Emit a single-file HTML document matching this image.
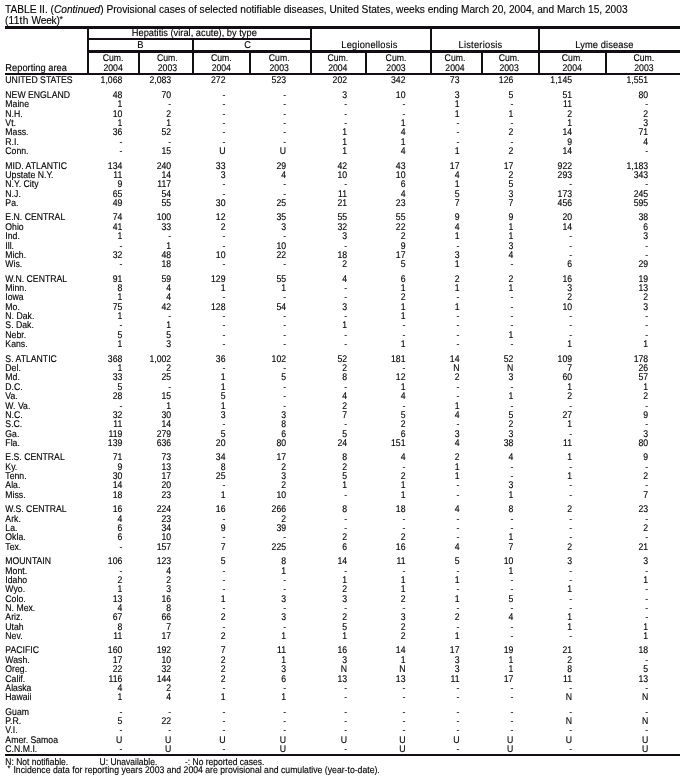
<!DOCTYPE html>
<html lang="en"><head><meta charset="utf-8"><title>TABLE II. (Continued) Provisional cases of selected notifiable diseases</title>
<style>
html,body{margin:0;padding:0;background:#fff;overflow:hidden;}
body{width:687px;height:782px;position:relative;overflow:hidden;font-family:"Liberation Sans",sans-serif;color:#000;}
table,caption,thead,tbody,tfoot,tr,th,td{display:block;position:absolute;left:0;top:0;margin:0;padding:0;border:0;font-weight:normal;font-style:normal;text-align:left;}
table{width:687px;height:782px;font-size:8.7px;line-height:12px;white-space:nowrap;-webkit-text-stroke:0.12px #000;}
caption{width:687px;height:26px;font-size:10.16px;}
caption span,thead span,tfoot span{display:block;position:absolute;height:12px;}
caption span{left:5px;}
caption span b{font-weight:normal;}
sup{font-size:84%;vertical-align:.22em;line-height:0;-webkit-text-stroke:.1px #000;}
tr{width:687px;height:12px;}
thead tr{height:0;}
tbody th,tbody td{height:12px;}
tbody th{left:5px;transform:matrix(1,0,0.0005,1.12,0.35,0);transform-origin:0 9px;}
tbody td{width:40px;text-align:right;transform-origin:100% 9px;}
.g span{width:140px;text-align:center;font-size:9.3px;transform-origin:50% 9px;}
.g .r span{width:auto;text-align:left;left:5px;top:62px;font-size:9.3px;transform:matrix(1,0,0.0005,1.07,0.35,0);transform-origin:0 9px;}
.c span{width:60px;text-align:center;top:52px;transform-origin:50% 9px;}
.c span+span{top:62px;}
tfoot span{font-size:8.69px;transform-origin:0 9px;}
.l{position:absolute;background:#120e14;}
tbody td:nth-child(2){left:82px;transform:matrix(1,0,0.0005,1.12,0.3,0);}
tbody td:nth-child(3){left:131px;transform:matrix(1,0,0.0005,1.12,0.2,0);}
tbody td:nth-child(4){left:185px;transform:matrix(1,0,0.0005,1.12,0.5,0);}
tbody td:nth-child(5){left:246px;transform:matrix(1,0,0.0005,1.12,0.1,0);}
tbody td:nth-child(6){left:307px;transform:matrix(1,0,0.0005,1.12,0.1,0);}
tbody td:nth-child(7){left:365px;transform:matrix(1,0,0.0005,1.12,0.5,0);}
tbody td:nth-child(8){left:419px;transform:matrix(1,0,0.0005,1.12,0.5,0);}
tbody td:nth-child(9){left:473px;transform:matrix(1,0,0.0005,1.12,0.3,0);}
tbody td:nth-child(10){left:532px;transform:matrix(1,0,0.0005,1.12,0.1,0);}
tbody td:nth-child(11){left:608px;transform:matrix(1,0,0.0005,1.12,0.2,0);}
.c th:nth-child(1) span{left:83px;transform:matrix(1,0,0.0005,1.12,0.1,0);}
.c th:nth-child(2) span{left:137px;transform:matrix(1,0,0.0005,1.12,0.4,0);}
.c th:nth-child(3) span{left:191px;transform:matrix(1,0,0.0005,1.12,0.3,0);}
.c th:nth-child(4) span{left:249px;transform:matrix(1,0,0.0005,1.12,0.2,0);}
.c th:nth-child(5) span{left:307px;transform:matrix(1,0,0.0005,1.12,0.8,0);}
.c th:nth-child(6) span{left:366px;transform:matrix(1,0,0.0005,1.12,0,0);}
.c th:nth-child(7) span{left:425px;transform:matrix(1,0,0.0005,1.12,0,0);}
.c th:nth-child(8) span{left:479px;transform:matrix(1,0,0.0005,1.12,0.1,0);}
.c th:nth-child(9) span{left:542px;transform:matrix(1,0,0.0005,1.12,0.2,0);}
.c th:nth-child(10) span{left:613px;transform:matrix(1,0,0.0005,1.12,0.9,0);}
</style></head><body>
<div class="l" style="left:5px;top:26px;width:675px;height:3px"></div>
<div class="l" style="left:87px;top:38px;width:225px;height:2px"></div>
<div class="l" style="left:87px;top:50px;width:593px;height:3px"></div>
<div class="l" style="left:5px;top:73px;width:675px;height:2px"></div>
<div class="l" style="left:5px;top:754px;width:675px;height:2px"></div>
<div class="l" style="left:87px;top:27px;width:2px;height:47px"></div>
<div class="l" style="left:138px;top:51px;width:2px;height:23px"></div>
<div class="l" style="left:192px;top:39px;width:2px;height:35px"></div>
<div class="l" style="left:249px;top:51px;width:2px;height:23px"></div>
<div class="l" style="left:310px;top:27px;width:2px;height:47px"></div>
<div class="l" style="left:365px;top:51px;width:2px;height:23px"></div>
<div class="l" style="left:430px;top:27px;width:2px;height:47px"></div>
<div class="l" style="left:481px;top:51px;width:2px;height:23px"></div>
<div class="l" style="left:538px;top:27px;width:2px;height:47px"></div>
<div class="l" style="left:605px;top:51px;width:2px;height:23px"></div>
<table>
<caption><span style="top:4px">TABLE II. (<i>Continued</i>) Provisional cases of selected notifiable diseases, United States, weeks ending March 20, 2004, and March 15, 2003</span><span style="top:15px"><b style="letter-spacing:.22px">(11th </b><b style="letter-spacing:-.22px">Week)</b><sup>*</sup></span></caption>
<thead>
<tr class="g"><th rowspan="3" class="r"><span>Reporting area</span></th><th colspan="4"><span style="left:124px;top:27px;transform:matrix(1,0,0.0005,1.07,0.3,0)">Hepatitis (viral, acute), by type</span></th><th colspan="2" rowspan="2"><span style="left:299px;top:39px;transform:matrix(1,0,0.0005,1.07,0.5,0);letter-spacing:0.2px">Legionellosis</span></th><th colspan="2" rowspan="2"><span style="left:410px;top:39px;transform:matrix(1,0,0.0005,1.07,0.52,0);letter-spacing:0.24px">Listeriosis</span></th><th colspan="2" rowspan="2"><span style="left:534px;top:39px;transform:matrix(1,0,0.0005,1.07,0.35,0);letter-spacing:0.1px">Lyme disease</span></th></tr>
<tr class="g"><th colspan="2"><span style="left:70px;top:39px;transform:matrix(1,0,0.0005,1.07,0.3,0)">B</span></th><th colspan="2"><span style="left:177px;top:39px;transform:matrix(1,0,0.0005,1.07,0.6,0)">C</span></th></tr>
<tr class="c"><th><span>Cum.</span><span>2004</span></th><th><span>Cum.</span><span>2003</span></th><th><span>Cum.</span><span>2004</span></th><th><span>Cum.</span><span>2003</span></th><th><span>Cum.</span><span>2004</span></th><th><span>Cum.</span><span>2003</span></th><th><span>Cum.</span><span>2004</span></th><th><span>Cum.</span><span>2003</span></th><th><span>Cum.</span><span>2004</span></th><th><span>Cum.</span><span>2003</span></th></tr>
</thead>
<tbody>
<tr style="top:74px"><th>UNITED STATES</th><td>1,068</td><td>2,083</td><td>272</td><td>523</td><td>202</td><td>342</td><td>73</td><td>126</td><td>1,145</td><td>1,551</td></tr>
<tr style="top:89px"><th>NEW ENGLAND</th><td>48</td><td>70</td><td>-</td><td>-</td><td>3</td><td>10</td><td>3</td><td>5</td><td>51</td><td>80</td></tr>
<tr style="top:98px"><th>Maine</th><td>1</td><td>-</td><td>-</td><td>-</td><td>-</td><td>-</td><td>1</td><td>-</td><td>11</td><td>-</td></tr>
<tr style="top:108px"><th>N.H.</th><td>10</td><td>2</td><td>-</td><td>-</td><td>-</td><td>-</td><td>1</td><td>1</td><td>2</td><td>2</td></tr>
<tr style="top:117px"><th>Vt.</th><td>1</td><td>1</td><td>-</td><td>-</td><td>-</td><td>1</td><td>-</td><td>-</td><td>1</td><td>3</td></tr>
<tr style="top:126px"><th>Mass.</th><td>36</td><td>52</td><td>-</td><td>-</td><td>1</td><td>4</td><td>-</td><td>2</td><td>14</td><td>71</td></tr>
<tr style="top:136px"><th>R.I.</th><td>-</td><td>-</td><td>-</td><td>-</td><td>1</td><td>1</td><td>-</td><td>-</td><td>9</td><td>4</td></tr>
<tr style="top:145px"><th>Conn.</th><td>-</td><td>15</td><td>U</td><td>U</td><td>1</td><td>4</td><td>1</td><td>2</td><td>14</td><td>-</td></tr>
<tr style="top:160px"><th>MID. ATLANTIC</th><td>134</td><td>240</td><td>33</td><td>29</td><td>42</td><td>43</td><td>17</td><td>17</td><td>922</td><td>1,183</td></tr>
<tr style="top:169px"><th>Upstate N.Y.</th><td>11</td><td>14</td><td>3</td><td>4</td><td>10</td><td>10</td><td>4</td><td>2</td><td>293</td><td>343</td></tr>
<tr style="top:178px"><th>N.Y. City</th><td>9</td><td>117</td><td>-</td><td>-</td><td>-</td><td>6</td><td>1</td><td>5</td><td>-</td><td>-</td></tr>
<tr style="top:188px"><th>N.J.</th><td>65</td><td>54</td><td>-</td><td>-</td><td>11</td><td>4</td><td>5</td><td>3</td><td>173</td><td>245</td></tr>
<tr style="top:197px"><th>Pa.</th><td>49</td><td>55</td><td>30</td><td>25</td><td>21</td><td>23</td><td>7</td><td>7</td><td>456</td><td>595</td></tr>
<tr style="top:211px"><th>E.N. CENTRAL</th><td>74</td><td>100</td><td>12</td><td>35</td><td>55</td><td>55</td><td>9</td><td>9</td><td>20</td><td>38</td></tr>
<tr style="top:221px"><th>Ohio</th><td>41</td><td>33</td><td>2</td><td>3</td><td>32</td><td>22</td><td>4</td><td>1</td><td>14</td><td>6</td></tr>
<tr style="top:230px"><th>Ind.</th><td>1</td><td>-</td><td>-</td><td>-</td><td>3</td><td>2</td><td>1</td><td>1</td><td>-</td><td>3</td></tr>
<tr style="top:240px"><th>Ill.</th><td>-</td><td>1</td><td>-</td><td>10</td><td>-</td><td>9</td><td>-</td><td>3</td><td>-</td><td>-</td></tr>
<tr style="top:249px"><th>Mich.</th><td>32</td><td>48</td><td>10</td><td>22</td><td>18</td><td>17</td><td>3</td><td>4</td><td>-</td><td>-</td></tr>
<tr style="top:258px"><th>Wis.</th><td>-</td><td>18</td><td>-</td><td>-</td><td>2</td><td>5</td><td>1</td><td>-</td><td>6</td><td>29</td></tr>
<tr style="top:273px"><th>W.N. CENTRAL</th><td>91</td><td>59</td><td>129</td><td>55</td><td>4</td><td>6</td><td>2</td><td>2</td><td>16</td><td>19</td></tr>
<tr style="top:282px"><th>Minn.</th><td>8</td><td>4</td><td>1</td><td>1</td><td>-</td><td>1</td><td>1</td><td>1</td><td>3</td><td>13</td></tr>
<tr style="top:291px"><th>Iowa</th><td>1</td><td>4</td><td>-</td><td>-</td><td>-</td><td>2</td><td>-</td><td>-</td><td>2</td><td>2</td></tr>
<tr style="top:301px"><th>Mo.</th><td>75</td><td>42</td><td>128</td><td>54</td><td>3</td><td>1</td><td>1</td><td>-</td><td>10</td><td>3</td></tr>
<tr style="top:310px"><th>N. Dak.</th><td>1</td><td>-</td><td>-</td><td>-</td><td>-</td><td>1</td><td>-</td><td>-</td><td>-</td><td>-</td></tr>
<tr style="top:319px"><th>S. Dak.</th><td>-</td><td>1</td><td>-</td><td>-</td><td>1</td><td>-</td><td>-</td><td>-</td><td>-</td><td>-</td></tr>
<tr style="top:329px"><th>Nebr.</th><td>5</td><td>5</td><td>-</td><td>-</td><td>-</td><td>-</td><td>-</td><td>1</td><td>-</td><td>-</td></tr>
<tr style="top:338px"><th>Kans.</th><td>1</td><td>3</td><td>-</td><td>-</td><td>-</td><td>1</td><td>-</td><td>-</td><td>1</td><td>1</td></tr>
<tr style="top:353px"><th>S. ATLANTIC</th><td>368</td><td>1,002</td><td>36</td><td>102</td><td>52</td><td>181</td><td>14</td><td>52</td><td>109</td><td>178</td></tr>
<tr style="top:362px"><th>Del.</th><td>1</td><td>2</td><td>-</td><td>-</td><td>2</td><td>-</td><td>N</td><td>N</td><td>7</td><td>26</td></tr>
<tr style="top:371px"><th>Md.</th><td>33</td><td>25</td><td>1</td><td>5</td><td>8</td><td>12</td><td>2</td><td>3</td><td>60</td><td>57</td></tr>
<tr style="top:381px"><th>D.C.</th><td>5</td><td>-</td><td>1</td><td>-</td><td>-</td><td>1</td><td>-</td><td>-</td><td>1</td><td>1</td></tr>
<tr style="top:390px"><th>Va.</th><td>28</td><td>15</td><td>5</td><td>-</td><td>4</td><td>4</td><td>-</td><td>1</td><td>2</td><td>2</td></tr>
<tr style="top:400px"><th>W. Va.</th><td>-</td><td>1</td><td>1</td><td>-</td><td>2</td><td>-</td><td>1</td><td>-</td><td>-</td><td>-</td></tr>
<tr style="top:409px"><th>N.C.</th><td>32</td><td>30</td><td>3</td><td>3</td><td>7</td><td>5</td><td>4</td><td>5</td><td>27</td><td>9</td></tr>
<tr style="top:418px"><th>S.C.</th><td>11</td><td>14</td><td>-</td><td>8</td><td>-</td><td>2</td><td>-</td><td>2</td><td>1</td><td>-</td></tr>
<tr style="top:428px"><th>Ga.</th><td>119</td><td>279</td><td>5</td><td>6</td><td>5</td><td>6</td><td>3</td><td>3</td><td>-</td><td>3</td></tr>
<tr style="top:437px"><th>Fla.</th><td>139</td><td>636</td><td>20</td><td>80</td><td>24</td><td>151</td><td>4</td><td>38</td><td>11</td><td>80</td></tr>
<tr style="top:451px"><th>E.S. CENTRAL</th><td>71</td><td>73</td><td>34</td><td>17</td><td>8</td><td>4</td><td>2</td><td>4</td><td>1</td><td>9</td></tr>
<tr style="top:461px"><th>Ky.</th><td>9</td><td>13</td><td>8</td><td>2</td><td>2</td><td>-</td><td>1</td><td>-</td><td>-</td><td>-</td></tr>
<tr style="top:470px"><th>Tenn.</th><td>30</td><td>17</td><td>25</td><td>3</td><td>5</td><td>2</td><td>1</td><td>-</td><td>1</td><td>2</td></tr>
<tr style="top:479px"><th>Ala.</th><td>14</td><td>20</td><td>-</td><td>2</td><td>1</td><td>1</td><td>-</td><td>3</td><td>-</td><td>-</td></tr>
<tr style="top:489px"><th>Miss.</th><td>18</td><td>23</td><td>1</td><td>10</td><td>-</td><td>1</td><td>-</td><td>1</td><td>-</td><td>7</td></tr>
<tr style="top:503px"><th>W.S. CENTRAL</th><td>16</td><td>224</td><td>16</td><td>266</td><td>8</td><td>18</td><td>4</td><td>8</td><td>2</td><td>23</td></tr>
<tr style="top:513px"><th>Ark.</th><td>4</td><td>23</td><td>-</td><td>2</td><td>-</td><td>-</td><td>-</td><td>-</td><td>-</td><td>-</td></tr>
<tr style="top:522px"><th>La.</th><td>6</td><td>34</td><td>9</td><td>39</td><td>-</td><td>-</td><td>-</td><td>-</td><td>-</td><td>2</td></tr>
<tr style="top:531px"><th>Okla.</th><td>6</td><td>10</td><td>-</td><td>-</td><td>2</td><td>2</td><td>-</td><td>1</td><td>-</td><td>-</td></tr>
<tr style="top:541px"><th>Tex.</th><td>-</td><td>157</td><td>7</td><td>225</td><td>6</td><td>16</td><td>4</td><td>7</td><td>2</td><td>21</td></tr>
<tr style="top:555px"><th>MOUNTAIN</th><td>106</td><td>123</td><td>5</td><td>8</td><td>14</td><td>11</td><td>5</td><td>10</td><td>3</td><td>3</td></tr>
<tr style="top:565px"><th>Mont.</th><td>-</td><td>4</td><td>-</td><td>1</td><td>-</td><td>-</td><td>-</td><td>1</td><td>-</td><td>-</td></tr>
<tr style="top:574px"><th>Idaho</th><td>2</td><td>2</td><td>-</td><td>-</td><td>1</td><td>1</td><td>1</td><td>-</td><td>-</td><td>1</td></tr>
<tr style="top:583px"><th>Wyo.</th><td>1</td><td>3</td><td>-</td><td>-</td><td>2</td><td>1</td><td>-</td><td>-</td><td>1</td><td>-</td></tr>
<tr style="top:593px"><th>Colo.</th><td>13</td><td>16</td><td>1</td><td>3</td><td>3</td><td>2</td><td>1</td><td>5</td><td>-</td><td>-</td></tr>
<tr style="top:602px"><th>N. Mex.</th><td>4</td><td>8</td><td>-</td><td>-</td><td>-</td><td>-</td><td>-</td><td>-</td><td>-</td><td>-</td></tr>
<tr style="top:611px"><th>Ariz.</th><td>67</td><td>66</td><td>2</td><td>3</td><td>2</td><td>3</td><td>2</td><td>4</td><td>1</td><td>-</td></tr>
<tr style="top:621px"><th>Utah</th><td>8</td><td>7</td><td>-</td><td>-</td><td>5</td><td>2</td><td>-</td><td>-</td><td>1</td><td>1</td></tr>
<tr style="top:630px"><th>Nev.</th><td>11</td><td>17</td><td>2</td><td>1</td><td>1</td><td>2</td><td>1</td><td>-</td><td>-</td><td>1</td></tr>
<tr style="top:644px"><th>PACIFIC</th><td>160</td><td>192</td><td>7</td><td>11</td><td>16</td><td>14</td><td>17</td><td>19</td><td>21</td><td>18</td></tr>
<tr style="top:654px"><th>Wash.</th><td>17</td><td>10</td><td>2</td><td>1</td><td>3</td><td>1</td><td>3</td><td>1</td><td>2</td><td>-</td></tr>
<tr style="top:663px"><th>Oreg.</th><td>22</td><td>32</td><td>2</td><td>3</td><td>N</td><td>N</td><td>3</td><td>1</td><td>8</td><td>5</td></tr>
<tr style="top:673px"><th>Calif.</th><td>116</td><td>144</td><td>2</td><td>6</td><td>13</td><td>13</td><td>11</td><td>17</td><td>11</td><td>13</td></tr>
<tr style="top:682px"><th>Alaska</th><td>4</td><td>2</td><td>-</td><td>-</td><td>-</td><td>-</td><td>-</td><td>-</td><td>-</td><td>-</td></tr>
<tr style="top:691px"><th>Hawaii</th><td>1</td><td>4</td><td>1</td><td>1</td><td>-</td><td>-</td><td>-</td><td>-</td><td>N</td><td>N</td></tr>
<tr style="top:706px"><th>Guam</th><td>-</td><td>-</td><td>-</td><td>-</td><td>-</td><td>-</td><td>-</td><td>-</td><td>-</td><td>-</td></tr>
<tr style="top:715px"><th>P.R.</th><td>5</td><td>22</td><td>-</td><td>-</td><td>-</td><td>-</td><td>-</td><td>-</td><td>N</td><td>N</td></tr>
<tr style="top:724px"><th>V.I.</th><td>-</td><td>-</td><td>-</td><td>-</td><td>-</td><td>-</td><td>-</td><td>-</td><td>-</td><td>-</td></tr>
<tr style="top:734px"><th>Amer. Samoa</th><td>U</td><td>U</td><td>U</td><td>U</td><td>U</td><td>U</td><td>U</td><td>U</td><td>U</td><td>U</td></tr>
<tr style="top:743px"><th>C.N.M.I.</th><td>-</td><td>U</td><td>-</td><td>U</td><td>-</td><td>U</td><td>-</td><td>U</td><td>-</td><td>U</td></tr>
</tbody>
<tfoot><tr><td colspan="11">
<span style="font-size:8.5px;left:5px;top:756px;transform:matrix(1,0,0.0005,1.145,0.35,0)">N: Not notifiable.</span>
<span style="font-size:8.5px;left:99px;top:756px;transform:matrix(1,0,0.0005,1.145,0.6,0)">U: Unavailable.</span>
<span style="font-size:8.5px;left:185px;top:756px;transform:matrix(1,0,0.0005,1.145,0,0)">-: No reported cases.</span>
<span style="left:7px;top:764px;transform:matrix(1,0,0.0005,1.12,0.5,0)"><sup style="margin-right:.09em">*</sup> Incidence data for reporting years 2003 and 2004 are provisional and cumulative (year-to-date).</span>
</td></tr></tfoot>
</table>
</body></html>
